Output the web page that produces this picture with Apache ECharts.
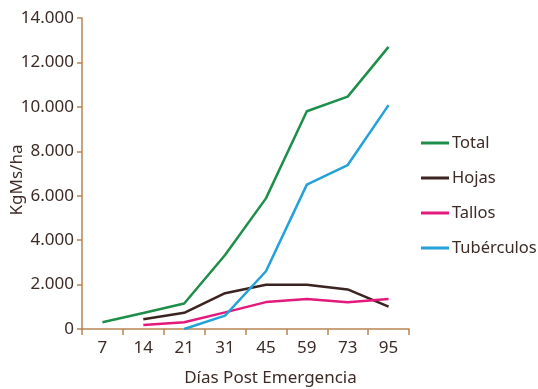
<!DOCTYPE html>
<html>
<head>
<meta charset="utf-8">
<script src="https://cdn.jsdelivr.net/npm/echarts@6/dist/echarts.min.js"></script>
<style>
  html, body { margin: 0; padding: 0; background: #fff; }
  #chart { width: 538px; height: 389px; }
</style>
</head>
<body>
<div id="chart"></div>
<script>
// Días post emergencia
const days = ['7', '14', '21', '31', '45', '59', '73', '95'];

// Materia seca (kg MS/ha) por fracción
const total      = [300, 720, 1150, 3330, 5880, 9800, 10460, 12700];
const hojas      = [null, 440, 730, 1610, 1990, 1990, 1780, 1010];
const tallos     = [null, 180, 300, 750, 1210, 1350, 1200, 1350];
const tuberculos = [null, null, 0, 600, 2600, 6500, 7380, 10080];

const yTicks = { min: 0, max: 14000, step: 2000 };

const textColor = '#3d2b26';
const axisColor = '#b98450';
const fontFamily = '"Noto Sans", "Open Sans", sans-serif';
const fontSize = 17;

function thousands(v) {
  return String(v).replace(/\B(?=(\d{3})+(?!\d))/g, '.');
}

function lineSeries(name, data, color) {
  return {
    name: name,
    type: 'line',
    data: data,
    symbol: 'none',
    connectNulls: false,
    lineStyle: { width: 2.5, color: color },
    itemStyle: { color: color }
  };
}

const chart = echarts.init(document.getElementById('chart'), null, { renderer: 'canvas' });
chart.setOption({
  animation: false,
  backgroundColor: '#ffffff',
  textStyle: { fontFamily: fontFamily, color: textColor },
  grid: { left: 82, right: 129, top: 18, bottom: 60, containLabel: false, outerBoundsMode: 'none' },
  legend: {
    orient: 'vertical',
    left: 421,
    top: 132,
    padding: 0,
    icon: 'rect',
    itemWidth: 28,
    itemHeight: 3,
    itemGap: 13,
    textStyle: { fontFamily: fontFamily, fontSize: 16.5, color: textColor, lineHeight: 22, padding: [0, 0, 0, -2] },
    data: ['Total', 'Hojas', 'Tallos', 'Tubérculos']
  },
  xAxis: {
    type: 'category',
    data: days,
    boundaryGap: true,
    name: 'Días Post Emergencia',
    nameLocation: 'middle',
    nameGap: 41,
    nameMoveOverlap: false,
    nameTextStyle: { fontFamily: fontFamily, fontSize: fontSize, color: textColor, padding: [0, 0, 0, 50] },
    axisLine: { lineStyle: { color: axisColor, width: 1.5 } },
    axisTick: { show: true, length: 6, alignWithLabel: false, lineStyle: { color: axisColor, width: 1.5 } },
    axisLabel: { fontFamily: fontFamily, fontSize: fontSize, color: textColor, margin: 11 },
    splitLine: { show: false }
  },
  yAxis: {
    type: 'value',
    min: yTicks.min,
    max: yTicks.max,
    interval: yTicks.step,
    name: 'KgMs/ha',
    nameLocation: 'middle',
    nameRotate: 90,
    nameGap: 56,
    nameMoveOverlap: false,
    nameTextStyle: { fontFamily: fontFamily, fontSize: fontSize, color: textColor, padding: [0, 13, 0, 0] },
    axisLine: { show: true, lineStyle: { color: axisColor, width: 1.5 } },
    axisTick: { show: true, length: 5, lineStyle: { color: axisColor, width: 1.5 } },
    axisLabel: { fontFamily: fontFamily, fontSize: fontSize, color: textColor, margin: 8, formatter: thousands },
    splitLine: { show: false }
  },
  series: [
    lineSeries('Total', total, '#1e8f4a'),
    lineSeries('Hojas', hojas, '#3a2320'),
    lineSeries('Tallos', tallos, '#e3197c'),
    lineSeries('Tubérculos', tuberculos, '#23a2da')
  ]
});
</script>
</body>
</html>
